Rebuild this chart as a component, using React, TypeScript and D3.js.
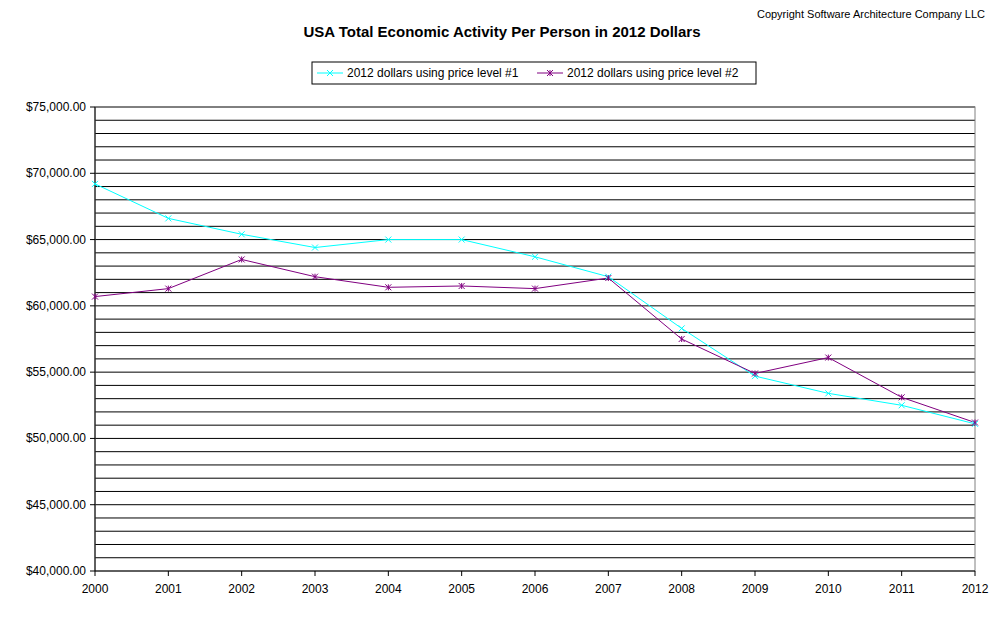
import React from 'react';
import * as d3 from 'd3';

const years = [2000, 2001, 2002, 2003, 2004, 2005, 2006, 2007, 2008, 2009, 2010, 2011, 2012];
const level1 = [69200, 66600, 65400, 64400, 65000, 65000, 63700, 62200, 58300, 54700, 53400, 52500, 51100];
const level2 = [60700, 61300, 63500, 62200, 61400, 61500, 61300, 62100, 57500, 54900, 56100, 53100, 51200];
const yTicks = [40000, 45000, 50000, 55000, 60000, 65000, 70000, 75000];

const font = 'Arial, "Liberation Sans", sans-serif';

const App: React.FC = () => {
  const x = d3.scaleLinear().domain([2000, 2012]).range([95, 975]);
  const y = d3.scaleLinear().domain([40000, 75000]).range([571, 107]);
  const line = d3.line<number>().x((_, i) => x(years[i])).y(d => y(d));
  const grid = d3.range(41000, 75001, 1000);
  const fmt = (v: number) => '$' + d3.format(',.2f')(v);

  const cross = (cx: number, cy: number, c: string, star: boolean, k: string) => (
    <g key={k} stroke={c} strokeWidth={1}>
      <line x1={cx - 3} y1={cy - 3} x2={cx + 3} y2={cy + 3} />
      <line x1={cx - 3} y1={cy + 3} x2={cx + 3} y2={cy - 3} />
      {star && <line x1={cx} y1={cy - 3} x2={cx} y2={cy + 3} />}
    </g>
  );

  return (
    <svg width={1005} height={617} style={{ position: 'absolute', left: 0, top: 0 }} fontFamily={font}>
      <rect width={1005} height={617} fill="#fff" />
      <text x={985} y={18} textAnchor="end" fontSize={11}>Copyright Software Architecture Company LLC</text>
      <text x={502} y={37} textAnchor="middle" fontSize={15} fontWeight="bold">USA Total Economic Activity Per Person in 2012 Dollars</text>

      <g>
        <rect x={312} y={62} width={444} height={22} fill="#fff" stroke="#000" />
        <line x1={317} x2={343} y1={73} y2={73} stroke="#00ffff" />
        {cross(330, 73, '#00ffff', false, 'l1')}
        <text x={347} y={77} fontSize={12}>2012 dollars using price level #1</text>
        <line x1={537} x2={563} y1={73} y2={73} stroke="#800080" />
        {cross(550, 73, '#800080', true, 'l2')}
        <text x={567} y={77} fontSize={12}>2012 dollars using price level #2</text>
      </g>

      {grid.map(g => (
        <line key={g} x1={95} x2={975} y1={y(g)} y2={y(g)} stroke="#000" strokeWidth={1} />
      ))}
      <rect x={95} y={107} width={880} height={464} fill="none" stroke="#808080" />
      <line x1={95} x2={95} y1={107} y2={571} stroke="#000" />
      <line x1={95} x2={975} y1={571} y2={571} stroke="#000" />
      {yTicks.map(t => (
        <g key={t}>
          <line x1={90} x2={95} y1={y(t)} y2={y(t)} stroke="#000" />
          <text x={86} y={y(t) + 4} textAnchor="end" fontSize={12}>{fmt(t)}</text>
        </g>
      ))}
      {years.map(yr => (
        <g key={yr}>
          <line x1={x(yr)} x2={x(yr)} y1={571} y2={576} stroke="#000" />
          <text x={x(yr)} y={593} textAnchor="middle" fontSize={12}>{yr}</text>
        </g>
      ))}

      <path d={line(level1) ?? ''} fill="none" stroke="#00ffff" strokeWidth={1} />
      <path d={line(level2) ?? ''} fill="none" stroke="#800080" strokeWidth={1} />
      {level1.map((v, i) => cross(x(years[i]), y(v), '#00ffff', false, 'a' + i))}
      {level2.map((v, i) => cross(x(years[i]), y(v), '#800080', true, 'b' + i))}
    </svg>
  );
};

export default App;
